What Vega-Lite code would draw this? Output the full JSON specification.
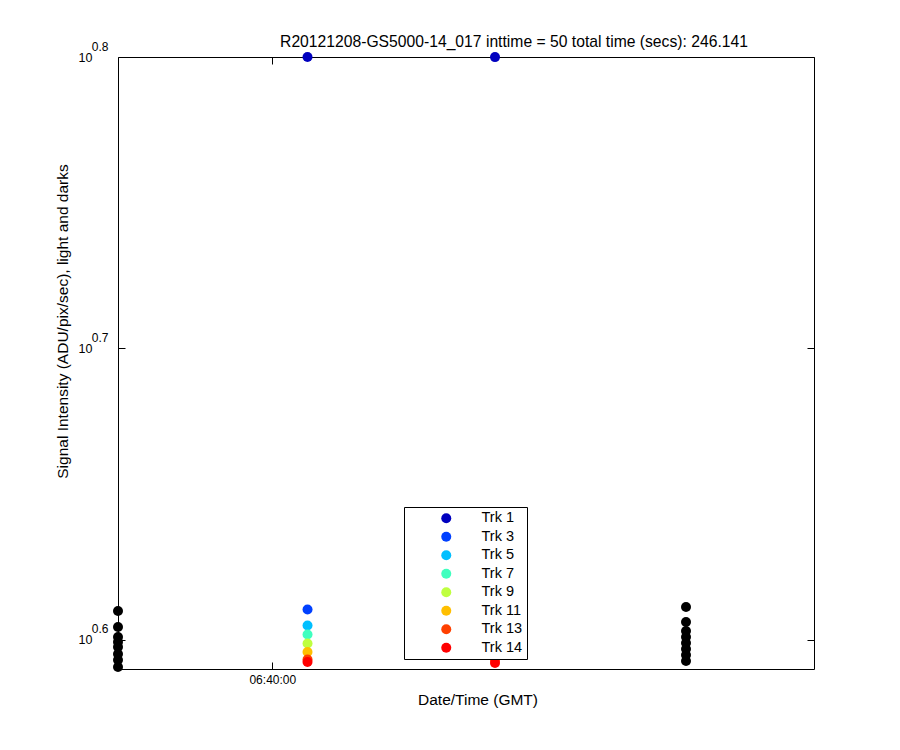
{
  "$schema": "https://vega.github.io/schema/vega-lite/v6.json",
  "width": 696,
  "height": 612,
  "autosize": "none",
  "padding": {"left": 118, "top": 57, "right": 86, "bottom": 81},
  "background": "white",
  "config": {
    "font": "Liberation Sans",
    "view": {"stroke": "black", "strokeWidth": 1},
    "axis": {"grid": false, "labelColor": "black", "titleColor": "black", "tickColor": "black", "domainColor": "black", "labelFont": "Liberation Sans", "titleFont": "Liberation Sans", "titleFontWeight": "normal"}
  },
  "title": {
    "text": "R20121208-GS5000-14_017 inttime = 50 total time (secs): 246.141",
    "fontSize": 15.7,
    "fontWeight": "normal",
    "color": "black",
    "font": "Liberation Sans",
    "anchor": "middle",
    "dx": 48,
    "dy": 19,
    "offset": 8
  },
  "data": {
    "values": [
      {"time": "2012-12-08T06:39:10.000Z", "trk": "Dark", "v": 4.0733},
      {"time": "2012-12-08T06:39:10.000Z", "trk": "Dark", "v": 4.0222},
      {"time": "2012-12-08T06:39:10.000Z", "trk": "Dark", "v": 3.9905},
      {"time": "2012-12-08T06:39:10.000Z", "trk": "Dark", "v": 3.9747},
      {"time": "2012-12-08T06:39:10.000Z", "trk": "Dark", "v": 3.9591},
      {"time": "2012-12-08T06:39:10.000Z", "trk": "Dark", "v": 3.9373},
      {"time": "2012-12-08T06:39:10.000Z", "trk": "Dark", "v": 3.9187},
      {"time": "2012-12-08T06:39:10.000Z", "trk": "Dark", "v": 3.8971},
      {"time": "2012-12-08T06:42:14.060Z", "trk": "Dark", "v": 4.0862},
      {"time": "2012-12-08T06:42:14.060Z", "trk": "Dark", "v": 4.0380},
      {"time": "2012-12-08T06:42:14.060Z", "trk": "Dark", "v": 4.0095},
      {"time": "2012-12-08T06:42:14.060Z", "trk": "Dark", "v": 3.9905},
      {"time": "2012-12-08T06:42:14.060Z", "trk": "Dark", "v": 3.9716},
      {"time": "2012-12-08T06:42:14.060Z", "trk": "Dark", "v": 3.9528},
      {"time": "2012-12-08T06:42:14.060Z", "trk": "Dark", "v": 3.9341},
      {"time": "2012-12-08T06:42:14.060Z", "trk": "Dark", "v": 3.9156},
      {"time": "2012-12-08T06:40:11.410Z", "trk": "Trk 1", "v": 6.3096},
      {"time": "2012-12-08T06:41:12.160Z", "trk": "Trk 1", "v": 6.3090},
      {"time": "2012-12-08T06:40:11.410Z", "trk": "Trk 3", "v": 4.0781},
      {"time": "2012-12-08T06:41:12.160Z", "trk": "Trk 3", "v": 4.0760},
      {"time": "2012-12-08T06:40:11.410Z", "trk": "Trk 5", "v": 4.0269},
      {"time": "2012-12-08T06:41:12.160Z", "trk": "Trk 5", "v": 4.0250},
      {"time": "2012-12-08T06:40:11.410Z", "trk": "Trk 7", "v": 3.9984},
      {"time": "2012-12-08T06:41:12.160Z", "trk": "Trk 7", "v": 3.9970},
      {"time": "2012-12-08T06:40:11.410Z", "trk": "Trk 9", "v": 3.9701},
      {"time": "2012-12-08T06:41:12.160Z", "trk": "Trk 9", "v": 3.9690},
      {"time": "2012-12-08T06:40:11.410Z", "trk": "Trk 11", "v": 3.9435},
      {"time": "2012-12-08T06:41:12.160Z", "trk": "Trk 11", "v": 3.9420},
      {"time": "2012-12-08T06:40:11.410Z", "trk": "Trk 13", "v": 3.9202},
      {"time": "2012-12-08T06:41:12.160Z", "trk": "Trk 13", "v": 3.9190},
      {"time": "2012-12-08T06:40:11.410Z", "trk": "Trk 14", "v": 3.9125},
      {"time": "2012-12-08T06:41:12.160Z", "trk": "Trk 14", "v": 3.9094}
    ]
  },
  "layer": [
    {
      "mark": {"type": "point", "filled": true, "opacity": 1, "size": 100, "strokeWidth": 0},
      "encoding": {
        "x": {
          "field": "time", "type": "temporal",
          "scale": {"type": "utc", "domain": [
            {"year": 2012, "month": 12, "date": 8, "hours": 6, "minutes": 39, "seconds": 10, "milliseconds": 0, "utc": true},
            {"year": 2012, "month": 12, "date": 8, "hours": 6, "minutes": 42, "seconds": 55, "milliseconds": 530, "utc": true}
          ], "nice": false},
          "axis": {
            "orient": "bottom",
            "values": [{"year": 2012, "month": 12, "date": 8, "hours": 6, "minutes": 40, "seconds": 0, "utc": true}],
            "labelExpr": "utcFormat(datum.value, '%H:%M:%S')",
            "tickSize": -7, "labelPadding": 12, "labelFontSize": 12, "labelFlush": false, "labelOverlap": false,
            "domain": false,
            "title": "Date/Time (GMT)", "titleFontSize": 15.5, "titleX": 359.5, "titleY": 30, "titleBaseline": "middle", "titleAlign": "center"
          }
        },
        "y": {
          "field": "v", "type": "quantitative",
          "scale": {"type": "log", "domain": [3.8909, 6.30957], "nice": false, "zero": false},
          "axis": {
            "orient": "left",
            "values": [3.98107, 5.01187, 6.30957],
            "labelExpr": "'10'",
            "labelFontSize": 12.5, "labelPadding": 33, "labelBaseline": "middle",
            "labelFlush": false, "labelOverlap": false, "labelAlign": "right",
            "tickSize": -7, "domain": false,
            "title": "Signal Intensity (ADU/pix/sec), light and darks", "titleFontSize": 15.5,
            "titleX": -56, "titleY": 264, "titleAlign": "center", "titleBaseline": "middle", "titleAngle": -90
          }
        },
        "color": {
          "field": "trk", "type": "nominal",
          "scale": {
            "domain": ["Trk 1", "Trk 3", "Trk 5", "Trk 7", "Trk 9", "Trk 11", "Trk 13", "Trk 14", "Dark"],
            "range": ["#0000BF", "#0040FF", "#00BFFF", "#40FFBF", "#BFFF40", "#FFBF00", "#FF4000", "#FF0000", "#000000"]
          },
          "legend": {
            "values": ["Trk 1", "Trk 3", "Trk 5", "Trk 7", "Trk 9", "Trk 11", "Trk 13", "Trk 14"],
            "title": null,
            "orient": "none", "legendX": 286, "legendY": 450,
            "fillColor": "white", "strokeColor": "black", "padding": 4, "cornerRadius": 0,
            "symbolType": "circle", "symbolSize": 100, "symbolStrokeWidth": 0, "symbolOpacity": 1,
            "symbolOffset": 31, "labelOffset": 4,
            "labelFontSize": 14.5, "labelFont": "Liberation Sans", "labelColor": "black",
            "rowPadding": 3.5, "direction": "vertical",
            "encode": {"labels": {"update": {"dx": {"value": 24}}}}
          }
        }
      }
    },
    {
      "mark": {"type": "point", "opacity": 0},
      "encoding": {
        "x": {
          "field": "time", "type": "temporal",
          "axis": {
            "orient": "top",
            "values": [{"year": 2012, "month": 12, "date": 8, "hours": 6, "minutes": 40, "seconds": 0, "utc": true}],
            "labels": false, "tickSize": -7, "domain": false, "title": null
          }
        },
        "y": {
          "field": "v", "type": "quantitative",
          "axis": {
            "orient": "right",
            "values": [3.98107, 5.01187, 6.30957],
            "labels": false, "tickSize": -7, "domain": false, "title": null
          }
        }
      }
    },
    {
      "mark": {"type": "point", "opacity": 0},
      "encoding": {
        "x": {"field": "time", "type": "temporal", "axis": null},
        "y": {
          "field": "v", "type": "quantitative",
          "axis": {
            "orient": "left",
            "values": [3.98107, 5.01187, 6.30957],
            "labelExpr": "format(log(datum.value)/LN10, '.1f')",
            "labelFontSize": 12, "labelPadding": 10, "labelOffset": -11, "labelBaseline": "middle",
            "labelFlush": false, "labelOverlap": false, "labelAlign": "right",
            "ticks": false, "tickSize": 0, "domain": false, "title": null
          }
        }
      }
    }
  ],
  "resolve": {"axis": {"x": "independent", "y": "independent"}}
}
